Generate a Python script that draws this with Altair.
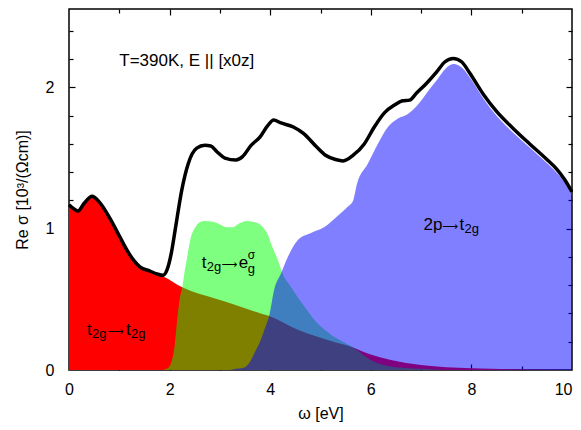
import altair as alt
import pandas as pd

FONT = "Liberation Sans"
ARROW_FONT = "DejaVu Sans"

# ---- total Re sigma (black line)
tot_w = [0.0, 0.1, 0.18, 0.3, 0.46, 0.6, 0.82, 1.0, 1.15, 1.3, 1.41, 1.61, 1.75, 1.87, 1.95, 2.03,
         2.11, 2.24, 2.37, 2.54, 2.7, 2.82, 2.94, 3.1, 3.32, 3.45, 3.62, 3.8, 3.95, 4.07, 4.2, 4.46,
         4.66, 4.92, 5.1, 5.3, 5.45, 5.65, 5.87, 6.07, 6.27, 6.47, 6.63, 6.77, 6.91, 7.11, 7.31,
         7.47, 7.64, 7.81, 7.97, 8.24, 8.5, 8.83, 9.16, 9.5, 9.7, 9.85, 10.0]
tot_s = [1.17, 1.14, 1.125, 1.18, 1.23, 1.19, 1.07, 0.95, 0.85, 0.77, 0.73, 0.70, 0.68, 0.67, 0.71,
         0.82, 0.99, 1.27, 1.46, 1.57, 1.59, 1.585, 1.545, 1.50, 1.486, 1.51, 1.59, 1.65, 1.73, 1.77,
         1.75, 1.72, 1.675, 1.58, 1.52, 1.49, 1.48, 1.52, 1.60, 1.72, 1.82, 1.875, 1.905, 1.91, 1.96,
         2.03, 2.11, 2.18, 2.205, 2.18, 2.10, 1.95, 1.83, 1.71, 1.60, 1.49, 1.42, 1.35, 1.26]

# ---- t2g -> t2g (red)
red_w = [0.0, 0.1, 0.18, 0.3, 0.46, 0.6, 0.82, 1.0, 1.15, 1.3, 1.41, 1.61, 1.75, 1.87, 2.25, 2.95,
         3.22, 3.81, 3.95, 4.55, 5.21, 5.6, 6.0, 6.4, 7.0, 8.0, 9.0, 10.0]
red_s = [1.165, 1.135, 1.12, 1.175, 1.225, 1.185, 1.065, 0.945, 0.845, 0.765, 0.725, 0.695, 0.675,
         0.662, 0.585, 0.50, 0.47, 0.40, 0.385, 0.285, 0.205, 0.165, 0.11, 0.07, 0.035, 0.012,
         0.004, 0.0]

# ---- t2g -> eg sigma (green)
green_w = [1.85, 1.95, 2.03, 2.1, 2.15, 2.2, 2.25, 2.3, 2.35, 2.41, 2.51, 2.6, 2.7, 2.87, 3.0, 3.14,
           3.25, 3.4, 3.53, 3.65, 3.75, 3.88, 3.95, 4.01, 4.15, 4.25, 4.41, 4.68, 4.94, 5.21, 5.5,
           5.65, 5.8, 6.0, 6.4, 7.0, 7.5, 10.0]
green_s = [0.0, 0.01, 0.05, 0.17, 0.35, 0.5, 0.58, 0.70, 0.80, 0.92, 1.01, 1.045, 1.055, 1.05, 1.03,
           1.01, 1.01, 1.04, 1.055, 1.05, 1.04, 1.0, 0.96, 0.90, 0.78, 0.68, 0.59, 0.45, 0.33, 0.25,
           0.19, 0.163, 0.12, 0.07, 0.025, 0.008, 0.0, 0.0]

# ---- 2p -> t2g (blue)
blue_w = [3.2, 3.35, 3.5, 3.6, 3.7, 3.81, 3.88, 3.99, 4.08, 4.21, 4.35, 4.55, 4.81, 5.07, 5.34,
          5.54, 5.65, 5.72, 5.94, 6.14, 6.34, 6.54, 6.73, 6.93, 7.13, 7.33, 7.48, 7.64, 7.84, 7.97,
          8.24, 8.5, 8.83, 9.16, 9.5, 9.7, 9.85, 10.0]
blue_s = [0.0, 0.01, 0.02, 0.06, 0.13, 0.21, 0.28, 0.40, 0.57, 0.68, 0.80, 0.92, 0.97, 1.01, 1.09,
          1.155, 1.20, 1.31, 1.46, 1.60, 1.72, 1.78, 1.81, 1.875, 1.97, 2.06, 2.13, 2.165, 2.13,
          2.07, 1.92, 1.80, 1.68, 1.575, 1.465, 1.395, 1.33, 1.24]

# ---- axis ticks / labels
x_label_vals = [0, 2, 4, 6, 8, 10]
y_label_vals = [0, 1, 2]
x_major_ticks = [2, 4, 6, 8]
x_minor_ticks = [1, 3, 5, 7, 9]
y_major_ticks = [1, 2]
y_minor_ticks = [0.2, 0.4, 0.6, 0.8, 1.2, 1.4, 1.6, 1.8, 2.2, 2.4]

# ---- annotation texts and anchor points (omega, sigma)
header_text = "T=390K, E || [x0z]"
header_at = (1.0, 2.15)
lab_a_at = (0.36, 0.245)
lab_b_at = (2.64, 0.72)
lab_c_at = (7.05, 0.99)

XDOM = [0, 10]
YDOM = [0, 2.555]


def frame(w, s):
    return pd.DataFrame({"w": w, "s": s})


main_x_axis = alt.Axis(orient="bottom", values=x_label_vals, ticks=False, domain=False, grid=False,
                       labelFont=FONT, labelFontSize=16, labelColor="black", labelPadding=11,
                       labelFlush=False,
                       labelAlign={"condition": {"test": "datum.value === 10", "value": "right"},
                                   "value": "center"},
                       title="ω [eV]", titleFont=FONT, titleFontSize=16,
                       titleFontWeight="normal", titleColor="black", titlePadding=8)
main_y_axis = alt.Axis(orient="left", values=y_label_vals, format="d", ticks=False, domain=False,
                       grid=False, labelFont=FONT, labelFontSize=16, labelColor="black",
                       labelPadding=15, labelFlush=False, title="Re σ [10³/(Ωcm)]",
                       titleFont=FONT, titleFontSize=16, titleFontWeight="normal",
                       titleColor="black", titlePadding=15)

XS = alt.Scale(domain=XDOM, nice=False, zero=False)
YS = alt.Scale(domain=YDOM, nice=False, zero=False)
X = alt.X("w:Q", scale=XS, axis=main_x_axis)
Y = alt.Y("s:Q", scale=YS, axis=main_y_axis)

red = alt.Chart(frame(red_w, red_s)).mark_area(color="#ff0000", opacity=1,
                                                interpolate="monotone").encode(x=X, y=Y)
green = alt.Chart(frame(green_w, green_s)).mark_area(color="#00ff00", opacity=0.5,
                                                    interpolate="monotone").encode(x=X, y=Y)
blue = alt.Chart(frame(blue_w, blue_s)).mark_area(color="#0000ff", opacity=0.5,
                                                  interpolate="monotone").encode(x=X, y=Y)
line = alt.Chart(frame(tot_w, tot_s)).mark_line(color="black", strokeWidth=3.5,
                                               interpolate="monotone").encode(x=X, y=Y)


def seg(at, text, dx, dy=0, size=17, font=FONT):
    d = pd.DataFrame({"w": [at[0]], "s": [at[1]], "t": [text]})
    return alt.Chart(d).mark_text(align="left", baseline="alphabetic", dx=dx, dy=dy,
                                  fontSize=size, font=font, color="black").encode(
        x=X, y=Y, text="t:N")


ARROW = "⟶"


def arrow(at, dx):
    return seg(at, ARROW, dx, 0, 11, ARROW_FONT)


texts = [
    seg(header_at, header_text, 0),
    # t2g -> t2g
    seg(lab_a_at, "t", 0), seg(lab_a_at, "2g", 5, 3, 13), arrow(lab_a_at, 21),
    seg(lab_a_at, "t", 39), seg(lab_a_at, "2g", 44, 3, 13),
    # t2g -> eg^sigma
    seg(lab_b_at, "t", 0), seg(lab_b_at, "2g", 5, 3, 13), arrow(lab_b_at, 20),
    seg(lab_b_at, "e", 37), seg(lab_b_at, "σ", 46, -9, 12), seg(lab_b_at, "g", 46, 5, 13),
    # 2p -> t2g
    seg(lab_c_at, "2p", 0), arrow(lab_c_at, 19), seg(lab_c_at, "t", 36),
    seg(lab_c_at, "2g", 41, 3, 13),
]

main = alt.layer(red, green, blue, line, *texts)


def tick_layer(xorient, yorient, xvals, yvals, size):
    ax = alt.Axis(orient=xorient, values=xvals, tickSize=size, offset=-size, labels=False,
                  domain=False, grid=False, title=None, tickColor="black", tickWidth=1.2)
    ay = alt.Axis(orient=yorient, values=yvals, tickSize=size, offset=-size, labels=False,
                  domain=False, grid=False, title=None, tickColor="black", tickWidth=1.2)
    return alt.Chart(frame(tot_w, tot_s)).mark_point(opacity=0).encode(
        x=alt.X("w:Q", scale=XS, axis=ax), y=alt.Y("s:Q", scale=YS, axis=ay))


ticks = [
    tick_layer("bottom", "left", x_major_ticks, y_major_ticks, 6),
    tick_layer("top", "right", x_major_ticks, y_major_ticks, 6),
    tick_layer("bottom", "left", x_minor_ticks, y_minor_ticks, 4),
    tick_layer("top", "right", x_minor_ticks, y_minor_ticks, 4),
]

chart = alt.layer(main, *ticks).resolve_axis(x="independent", y="independent").properties(
    width=503, height=361,
    autosize=alt.AutoSizeParams(type="none"),
    padding={"left": 61, "top": 1, "right": 1, "bottom": 52},
    background="white",
).configure_view(stroke="black", strokeWidth=1.5)

chart.save("out.html", embed_options={"renderer": "svg", "actions": False})
